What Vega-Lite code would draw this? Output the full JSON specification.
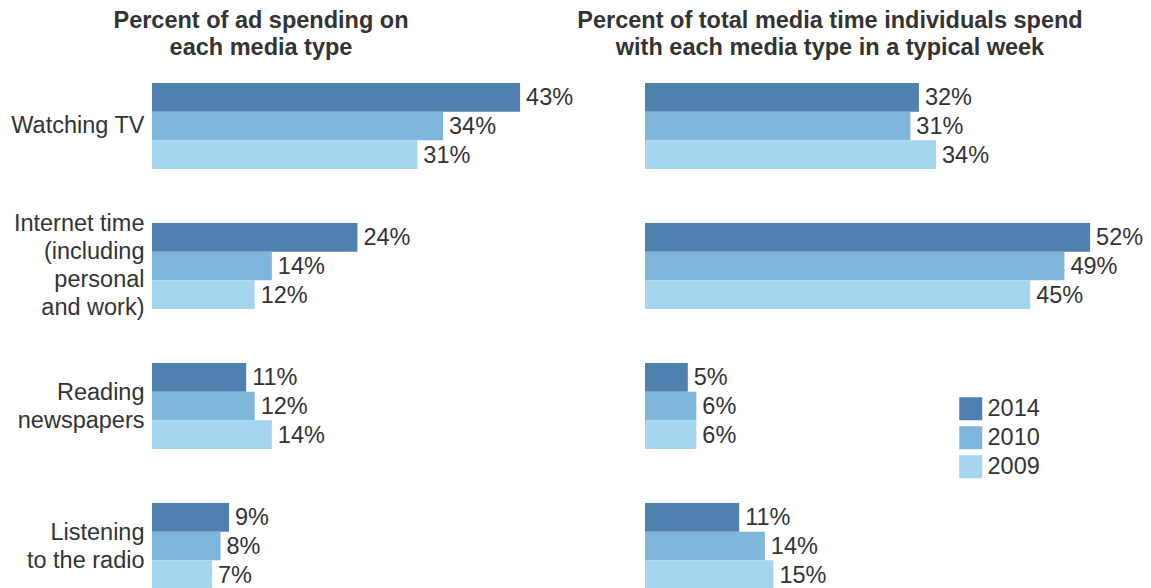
{
  "$schema": "https://vega.github.io/schema/vega-lite/v6.json",
  "background": "white",
  "padding": {"left": 10, "top": 8, "right": 0, "bottom": 0},
  "bounds": "flush",
  "config": {
    "view": {"stroke": null},
    "font": "Liberation Sans",
    "title": {"font": "Liberation Sans", "fontSize": 23.5, "fontWeight": "bold", "color": "#333333", "lineHeight": 27, "anchor": "middle", "frame": "group"},
    "concat": {"spacing": 43}
  },
  "datasets": {
    "rows": [
      {"measure": "ad", "category": "Watching TV", "year": "2014", "value": 43},
      {"measure": "ad", "category": "Watching TV", "year": "2010", "value": 34},
      {"measure": "ad", "category": "Watching TV", "year": "2009", "value": 31},
      {"measure": "ad", "category": "Internet time|(including|personal|and work)", "year": "2014", "value": 24},
      {"measure": "ad", "category": "Internet time|(including|personal|and work)", "year": "2010", "value": 14},
      {"measure": "ad", "category": "Internet time|(including|personal|and work)", "year": "2009", "value": 12},
      {"measure": "ad", "category": "Reading|newspapers", "year": "2014", "value": 11},
      {"measure": "ad", "category": "Reading|newspapers", "year": "2010", "value": 12},
      {"measure": "ad", "category": "Reading|newspapers", "year": "2009", "value": 14},
      {"measure": "ad", "category": "Listening|to the radio", "year": "2014", "value": 9},
      {"measure": "ad", "category": "Listening|to the radio", "year": "2010", "value": 8},
      {"measure": "ad", "category": "Listening|to the radio", "year": "2009", "value": 7},
      {"measure": "time", "category": "Watching TV", "year": "2014", "value": 32},
      {"measure": "time", "category": "Watching TV", "year": "2010", "value": 31},
      {"measure": "time", "category": "Watching TV", "year": "2009", "value": 34},
      {"measure": "time", "category": "Internet time|(including|personal|and work)", "year": "2014", "value": 52},
      {"measure": "time", "category": "Internet time|(including|personal|and work)", "year": "2010", "value": 49},
      {"measure": "time", "category": "Internet time|(including|personal|and work)", "year": "2009", "value": 45},
      {"measure": "time", "category": "Reading|newspapers", "year": "2014", "value": 5},
      {"measure": "time", "category": "Reading|newspapers", "year": "2010", "value": 6},
      {"measure": "time", "category": "Reading|newspapers", "year": "2009", "value": 6},
      {"measure": "time", "category": "Listening|to the radio", "year": "2014", "value": 11},
      {"measure": "time", "category": "Listening|to the radio", "year": "2010", "value": 14},
      {"measure": "time", "category": "Listening|to the radio", "year": "2009", "value": 15}
    ]
  },
  "data": {"name": "rows"},
  "resolve": {"legend": {"color": "independent"}},
  "hconcat": [
    {
      "width": 450,
      "height": 506,
      "title": {"text": ["Percent of ad spending on", "each media type"], "dx": -116, "offset": 24},
      "transform": [{"filter": "datum.measure === 'ad'"}, {"calculate": "datum.value + '%'", "as": "label"}],
      "encoding": {
        "y": {
          "field": "category", "type": "nominal", "sort": null,
          "scale": {"paddingInner": 0.386, "paddingOuter": 0},
          "axis": {
            "title": null, "domain": false, "ticks": false, "labelPadding": 8, "labelFontSize": 23.5, "labelColor": "#333333", "labelLineHeight": 28,
            "labelExpr": "split(datum.label, '|')", "labelFont": "Liberation Sans",
            "labelOffset": {"condition": [{"test": "indexof(datum.label, 'Internet') === 0", "value": -42}, {"test": "indexof(datum.label, '|') > 0", "value": -13}], "value": 0}
          }
        },
        "yOffset": {"field": "year", "type": "nominal", "sort": ["2014", "2010", "2009"], "scale": {"paddingInner": 0, "paddingOuter": 0}},
        "x": {"field": "value", "type": "quantitative", "scale": {"domain": [0, 52.57], "nice": false}, "axis": null}
      },
      "layer": [
        {
          "mark": {"type": "bar"},
          "encoding": {
            "color": {"field": "year", "type": "nominal", "scale": {"domain": ["2014", "2010", "2009"], "range": ["#4e80b0", "#7fb6dc", "#a3d5ee"]}, "legend": null}
          }
        },
        {
          "mark": {"type": "text", "align": "left", "baseline": "middle", "dx": 6, "dy": 1, "fontSize": 23.5, "color": "#333333"},
          "encoding": {"text": {"field": "label", "type": "nominal"}, "detail": {"field": "year"}}
        }
      ]
    },
    {
      "width": 450,
      "height": 506,
      "title": {"text": ["Percent of total media time individuals spend", "with each media type in a typical week"], "dx": -40, "offset": 24},
      "transform": [{"filter": "datum.measure === 'time'"}, {"calculate": "datum.value + '%'", "as": "label"}],
      "encoding": {
        "y": {
          "field": "category", "type": "nominal", "sort": null,
          "scale": {"paddingInner": 0.386, "paddingOuter": 0},
          "axis": null
        },
        "yOffset": {"field": "year", "type": "nominal", "sort": ["2014", "2010", "2009"], "scale": {"paddingInner": 0, "paddingOuter": 0}},
        "x": {"field": "value", "type": "quantitative", "scale": {"domain": [0, 52.57], "nice": false}, "axis": null}
      },
      "layer": [
        {
          "mark": {"type": "bar"},
          "encoding": {
            "color": {
              "field": "year", "type": "nominal",
              "scale": {"domain": ["2014", "2010", "2009"], "range": ["#4e80b0", "#7fb6dc", "#a3d5ee"]},
              "legend": {"title": null, "orient": "none", "legendX": 314, "legendY": 314, "padding": 0, "symbolType": "square", "symbolSize": 529, "symbolStrokeWidth": 0, "symbolOpacity": 1, "labelFontSize": 23.5, "labelColor": "#333333", "labelFont": "Liberation Sans", "rowPadding": 4, "labelOffset": 5}
            }
          }
        },
        {
          "mark": {"type": "text", "align": "left", "baseline": "middle", "dx": 6, "dy": 1, "fontSize": 23.5, "color": "#333333"},
          "encoding": {"text": {"field": "label", "type": "nominal"}, "detail": {"field": "year"}}
        }
      ]
    }
  ]
}
